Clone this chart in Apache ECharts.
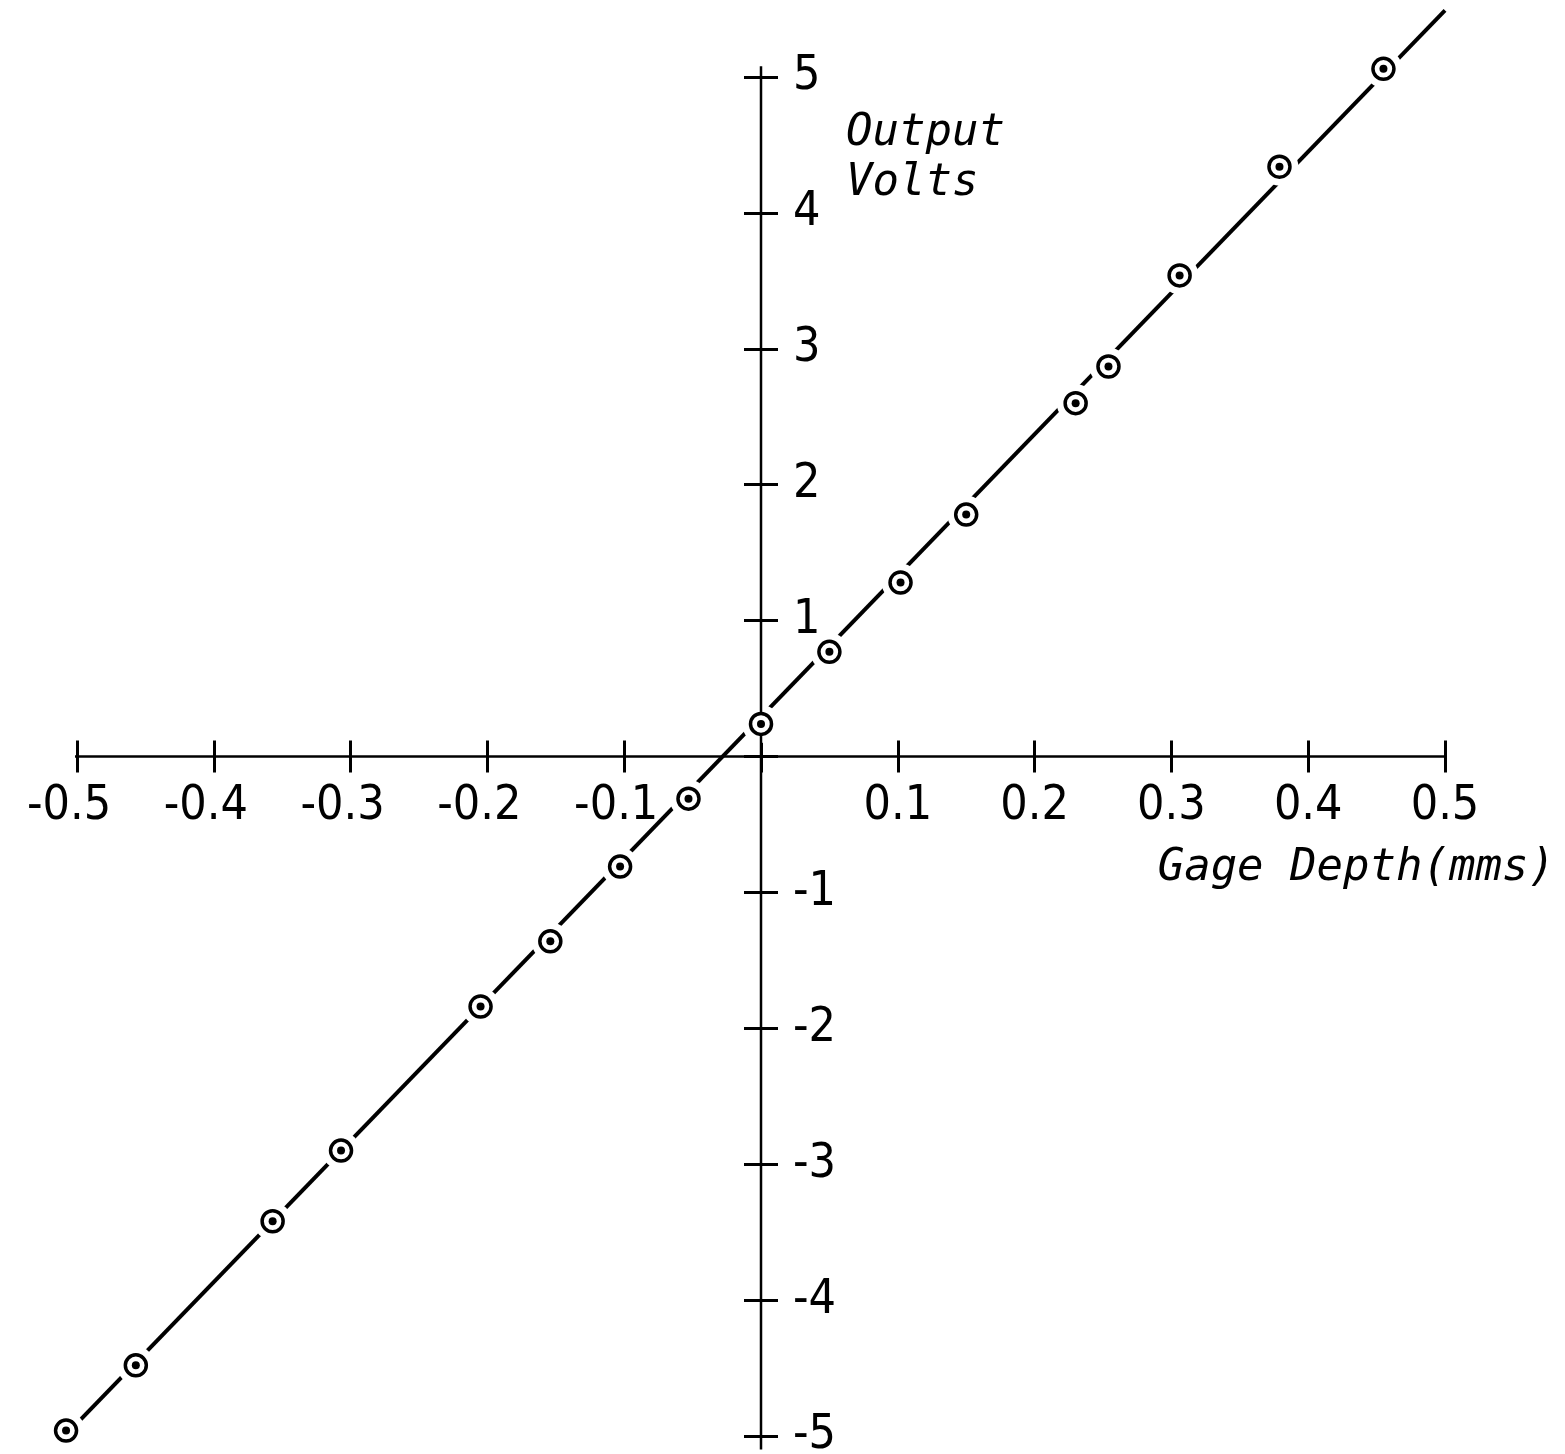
<!DOCTYPE html>
<html>
<head>
<meta charset="utf-8">
<script src="https://cdn.jsdelivr.net/npm/echarts@6/dist/echarts.min.js"></script>
<style>
  html, body { margin: 0; padding: 0; background: #ffffff; }
  #chart { width: 1565px; height: 1454px; }
</style>
</head>
<body>
<div id="chart"></div>
<script>
// ---- data ----
const gageDepth   = [-0.508, -0.457, -0.357, -0.307, -0.205, -0.154, -0.103, -0.053, 0.000, 0.050, 0.102, 0.150, 0.230, 0.254, 0.306, 0.379, 0.455];
const outputVolts = [-4.96, -4.48, -3.42, -2.90, -1.84, -1.36, -0.81, -0.31, 0.24, 0.77, 1.28, 1.78, 2.60, 2.87, 3.54, 4.34, 5.06];

// fitted straight line (end points)
const fitX = [-0.508, 0.500];
const fitY = [-4.99, 5.49];

// axis line extents
const xAxisLineX = [-0.52, 0.58];
const yAxisLineY = [-5.10, 5.08];

// ticks and tick labels
const xTickValues = [-0.5, -0.4, -0.3, -0.2, -0.1, 0, 0.1, 0.2, 0.3, 0.4, 0.5];
const xTickLabels = ['-0.5', '-0.4', '-0.3', '-0.2', '-0.1', '', '0.1', '0.2', '0.3', '0.4', '0.5'];
const yTickValues = [-5, -4, -3, -2, -1, 0, 1, 2, 3, 4, 5];
const yTickLabels = ['-5', '-4', '-3', '-2', '-1', '', '1', '2', '3', '4', '5'];

const xName = 'Gage Depth(mms)';
const yName = 'Output\nVolts';

// ---- build ----
const pts = gageDepth.map((x, i) => [x, outputVolts[i]]);
const fitPts = fitX.map((x, i) => [x, fitY[i]]);
const xLinePts = xAxisLineX.map(x => [x, 0]);
const yLinePts = yAxisLineY.map(y => [0, y]);

function lookup(vals, labels, v) {
  const i = vals.findIndex(t => Math.abs(t - v) < 1e-6);
  return i < 0 ? '' : labels[i];
}

const W = 1565, H = 1454;
const G = { left: 77, right: 120, top: 77, bottom: 18 };
const plotW = W - G.left - G.right, plotH = H - G.top - G.bottom;
// pixel position of the zero lines inside the grid (so axes sit on the origin)
const zeroX = G.left + plotW * (0 - (-0.5)) / 1.0;
const zeroY = G.top + plotH * (5 - 0) / 10;

const tickFont = "'Liberation Sans Narrow', 'DejaVu Sans Condensed', 'Liberation Sans', sans-serif";
const nameFont = "'DejaVu Sans Mono', monospace";

const xAxisCommon = {
  type: 'value', min: -0.5, max: 0.5, interval: 0.1,
  axisLine: { show: false, onZero: false },
  splitLine: { show: false },
  axisTick: { show: true, length: 16, lineStyle: { color: '#000', width: 3 } }
};
const yAxisCommon = {
  type: 'value', min: -5, max: 5, interval: 1,
  axisLine: { show: false, onZero: false },
  splitLine: { show: false },
  axisTick: { show: true, length: 17, lineStyle: { color: '#000', width: 3 } }
};

const option = {
  animation: false,
  backgroundColor: '#ffffff',
  grid: { left: G.left, right: G.right, top: G.top, bottom: G.bottom, containLabel: false, outerBoundsMode: 'none' },
  xAxis: [
    Object.assign({}, xAxisCommon, {
      position: 'bottom',
      offset: -((H - G.bottom) - zeroY),
      axisLabel: {
        show: true, margin: 26, color: '#000', fontSize: 48, fontFamily: tickFont,
        showMinLabel: true, showMaxLabel: true, hideOverlap: false,
        formatter: function (v) {
          const s = lookup(xTickValues, xTickLabels, v);
          if (!s) return '';
          return s.charAt(0) === '-' ? s + '{pad| }' : s;
        },
        rich: { pad: { width: 16, fontSize: 48, fontFamily: tickFont } }
      }
    }),
    Object.assign({}, xAxisCommon, {
      position: 'top',
      offset: -(zeroY - G.top),
      axisLabel: { show: false }
    })
  ],
  yAxis: [
    Object.assign({}, yAxisCommon, {
      position: 'left',
      offset: -(zeroX - G.left),
      axisLabel: {
        show: true, inside: true, margin: 32, color: '#000', fontSize: 48, fontFamily: tickFont,
        showMinLabel: true, showMaxLabel: true, hideOverlap: false,
        formatter: function (v) { return lookup(yTickValues, yTickLabels, v); }
      }
    }),
    Object.assign({}, yAxisCommon, {
      position: 'right',
      offset: -((W - G.right) - zeroX),
      axisLabel: { show: false }
    })
  ],
  graphic: [
    {
      type: 'text', left: 846, top: 109, silent: true,
      style: { text: yName, fill: '#000', font: 'italic 44px ' + nameFont, lineHeight: 50 }
    },
    {
      type: 'text', right: 10, top: 844, silent: true,
      style: { text: xName, fill: '#000', font: 'italic 44px ' + nameFont, lineHeight: 50 }
    }
  ],
  series: [
    {
      name: 'fit', type: 'line', data: fitPts, symbol: 'none', clip: false, silent: true, z: 1,
      lineStyle: { color: '#000', width: 4 }
    },
    {
      name: 'halo', type: 'scatter', data: pts, symbol: 'circle', symbolSize: 38, clip: false, silent: true, z: 2,
      itemStyle: { color: '#fff', opacity: 1 }
    },
    {
      name: 'xAxisLine', type: 'line', data: xLinePts, symbol: 'none', clip: false, silent: true, z: 3,
      lineStyle: { color: '#000', width: 2.5 }
    },
    {
      name: 'yAxisLine', type: 'line', data: yLinePts, symbol: 'none', clip: false, silent: true, z: 3,
      lineStyle: { color: '#000', width: 2.5 }
    },
    {
      name: 'ring', type: 'scatter', data: pts, symbol: 'circle', symbolSize: 21, clip: false, silent: true, z: 4,
      itemStyle: { color: '#fff', borderColor: '#000', borderWidth: 3.5, opacity: 1 }
    },
    {
      name: 'dot', type: 'scatter', data: pts, symbol: 'circle', symbolSize: 8, clip: false, silent: true, z: 5,
      itemStyle: { color: '#000', opacity: 1 }
    }
  ]
};

const chart = echarts.init(document.getElementById('chart'), null, { renderer: 'canvas' });
chart.setOption(option);
</script>
</body>
</html>
